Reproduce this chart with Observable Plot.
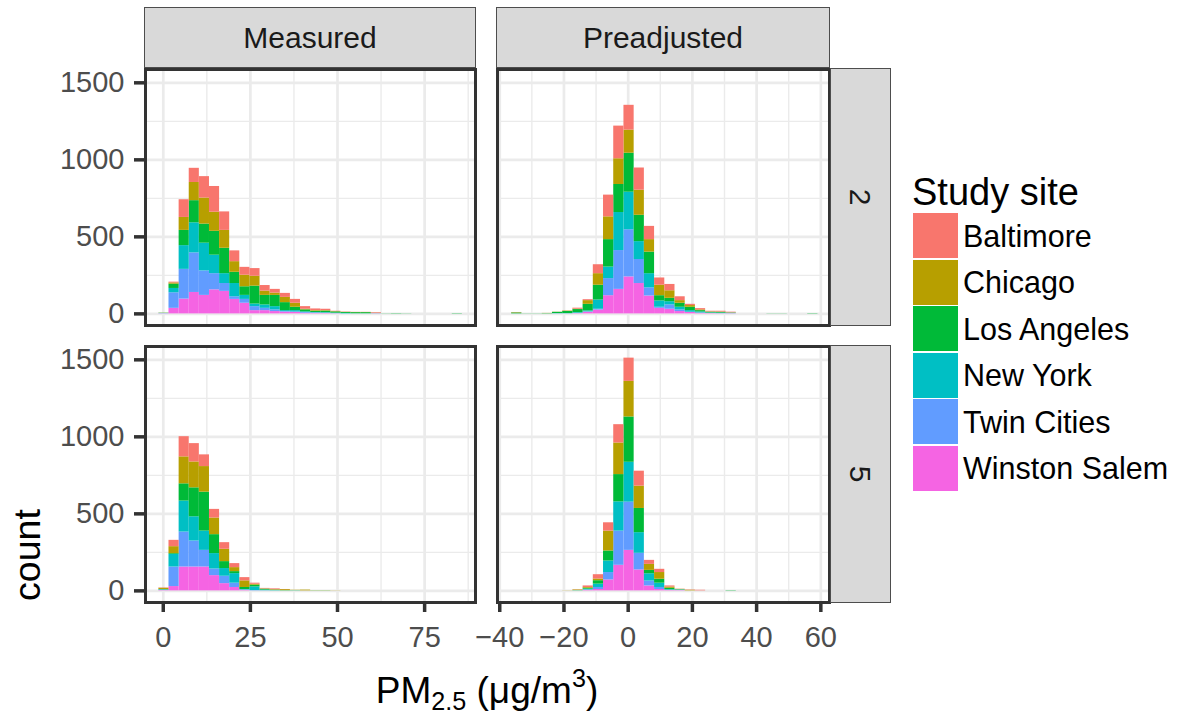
<!DOCTYPE html>
<html>
<head>
<meta charset="utf-8">
<script src="https://cdn.jsdelivr.net/npm/d3@7"></script>
<script src="https://cdn.jsdelivr.net/npm/@observablehq/plot@0.6"></script>
<style>
  body { margin: 0; background: #fff; }
  #wrap { position: relative; width: 1177px; height: 717px; overflow: hidden;
          font-family: "Liberation Sans", Arial, sans-serif; background: #fff; }
  #wrap svg.p { position: absolute; left: 0; top: 0; }
  .strip { position: absolute; background: #D9D9D9; border: 1px solid #4d4d4d; box-sizing: border-box;
           display: flex; align-items: center; justify-content: center; font-size: 30px; color: #1A1A1A; }
  .strip span.rot { display: inline-block; transform: rotate(90deg); }
  .key { position: absolute; width: 45px; height: 45px; }
  .klab { position: absolute; font-size: 30.5px; line-height: 1; color: #000; white-space: nowrap; }
  .ttl { position: absolute; white-space: nowrap; color: #000; line-height: 1; }
  sub { font-size: 0.68em; vertical-align: -0.28em; line-height: 0; }
  sup { font-size: 0.68em; vertical-align: 0.62em; line-height: 0; }
</style>
</head>
<body>
<div id="wrap"></div>
<script>
// ---------------- data ----------------
const sites = ["Baltimore", "Chicago", "Los Angeles", "New York", "Twin Cities", "Winston Salem"];
const siteColors = ["#F8766D", "#B79F00", "#00BA38", "#00BFC4", "#619CFF", "#F564E3"];

const facetCols = ["Measured", "Preadjusted"];
const facetRows = ["2", "5"];

// histogram bin edges (PM2.5, µg/m3)
const measuredEdges = [-1.26, 1.64, 4.55, 7.45, 10.35, 13.26, 16.16, 19.06, 21.96, 24.87, 27.77,
  30.67, 33.58, 36.48, 39.38, 42.29, 45.19, 48.09, 50.99, 53.90, 56.80, 59.70, 62.61, 65.51,
  68.41, 71.32, 74.22, 77.12, 80.02, 82.93, 85.83];
const preadjEdges = [-36.3, -33.12, -29.94, -26.76, -23.58, -20.4, -17.22, -14.04, -10.86, -7.68,
  -4.5, -1.32, 1.86, 5.04, 8.22, 11.4, 14.58, 17.76, 20.94, 24.12, 27.3, 30.48, 33.66, 36.84,
  40.02, 43.2, 46.38, 49.56, 52.74, 55.92, 59.1];

// counts per bin, one list per site (order of `sites`)
const measured2 = [
  [0,5,115,92,139,167,120,70,51,50,36,24,26,25,17,11,9,2,2,1,1,4,0,0,0,0,0,0,0,0],
  [1,8,84,118,169,124,116,69,75,64,28,15,34,26,4,4,3,2,1,1,1,1,0,0,0,0,0,0,0,0],
  [1,28,99,144,124,155,165,73,56,116,62,73,52,22,13,8,10,8,6,7,7,1,1,2,1,0,0,0,0,2],
  [1,28,154,195,180,120,64,86,26,17,22,21,6,8,4,3,3,3,3,1,1,0,0,0,0,0,0,0,0,0],
  [1,101,193,257,159,105,51,17,25,26,15,11,4,4,5,2,2,1,0,0,0,1,0,0,0,0,0,0,0,0],
  [1,36,96,139,120,156,146,94,69,21,21,15,11,9,4,4,3,1,0,0,0,1,0,0,0,0,0,0,0,0]
];
const measured5 = [
  [2,41,131,119,76,56,43,26,21,7,3,5,1,0,0,0,0,0,0,0,0,0,0,0,0,0,0,0,0,0],
  [8,45,175,168,166,108,80,26,43,6,2,3,6,2,5,1,1,1,0,0,0,0,0,0,0,0,0,0,0,0],
  [2,5,112,188,253,123,45,13,13,11,6,3,2,1,0,1,1,0,0,0,0,0,0,0,0,0,0,0,0,0],
  [2,82,201,157,125,100,50,62,3,24,4,2,0,1,0,0,0,0,0,0,0,0,0,0,0,0,0,0,0,0],
  [3,127,227,169,108,43,48,28,2,2,1,0,0,0,0,0,0,0,0,0,0,0,0,0,0,0,0,0,0,0],
  [2,28,155,155,155,99,47,22,4,0,0,0,0,0,0,0,0,0,0,0,0,0,0,0,0,0,0,0,0,0]
];
const preadj2 = [
  [1,0,0,0,0,1,6,6,58,141,212,161,144,86,47,41,25,8,8,4,5,4,0,0,0,0,0,0,0,0],
  [2,0,0,1,1,2,3,24,75,148,167,150,163,81,68,49,17,11,5,2,2,1,0,0,0,0,0,0,0,0],
  [6,1,1,2,8,14,20,43,96,178,182,253,171,140,34,22,26,22,8,5,5,2,0,0,0,1,1,0,0,2],
  [0,0,0,0,1,1,4,6,60,75,247,244,116,92,41,21,17,10,7,3,3,2,0,0,0,0,0,0,0,0],
  [0,0,0,0,1,1,2,2,5,111,252,306,156,53,7,28,11,2,2,1,1,1,0,0,0,0,0,0,0,0],
  [0,0,0,0,0,0,2,11,25,118,159,240,197,116,36,30,15,9,4,2,1,1,0,0,0,0,0,0,0,0]
];
const preadj5 = [
  [0,0,0,0,0,0,1,10,28,54,119,151,97,26,21,7,1,2,4,0,0,0,0,0,0,0,0,0,0,0],
  [0,0,0,0,0,1,4,5,11,129,205,231,145,39,43,8,2,4,0,0,0,0,0,0,0,0,0,0,0,0],
  [0,0,0,0,0,0,1,6,22,65,177,294,157,22,26,9,2,0,0,0,0,2,0,0,0,0,0,0,0,0],
  [0,0,0,0,0,0,1,5,22,75,190,259,134,47,28,4,2,0,0,0,0,0,0,0,0,0,0,0,0,0],
  [0,0,0,0,0,0,0,2,13,48,222,313,108,32,13,0,2,0,0,0,0,0,0,0,0,0,0,0,0,0],
  [0,0,0,0,0,0,0,4,9,71,166,263,136,32,9,4,2,0,0,0,0,0,0,0,0,0,0,0,0,0]
];

// axis ticks
const countTicks = [0, 500, 1000, 1500];
const countMinor = [250, 750, 1250];
const measuredTicks = [0, 25, 50, 75];
const measuredMinor = [12.5, 37.5, 62.5, 87.5];
const preadjTicks = [-40, -20, 0, 20, 40, 60];
const preadjMinor = [-30, -10, 10, 30, 50];

// ---------------- drawing ----------------
const W = 1177, H = 717;
const FONT = "'Liberation Sans', Arial, sans-serif";
const wrap = document.getElementById("wrap");
const fmt = d => (d < 0 ? "\u2212" : "") + Math.abs(d);

function panel({edges, counts, xDomain, xTicks, xMinor, box, showY, showX}) {
  const rows = [];
  for (let s = sites.length - 1; s >= 0; s--) {
    counts[s].forEach((c, i) => rows.push({site: sites[s], x1: edges[i], x2: edges[i + 1], count: c}));
  }
  const marks = [
    Plot.ruleX(xMinor, {stroke: "#EBEBEB", strokeWidth: 1.4}),
    Plot.ruleY(countMinor, {stroke: "#EBEBEB", strokeWidth: 1.4}),
    Plot.ruleX(xTicks, {stroke: "#EBEBEB", strokeWidth: 2.7}),
    Plot.ruleY(countTicks, {stroke: "#EBEBEB", strokeWidth: 2.7}),
    Plot.rectY(rows, {x1: "x1", x2: "x2", y: "count", fill: "site", inset: 0}),
    Plot.frame({stroke: "#333333", strokeWidth: 3})
  ];
  if (showY) marks.push(Plot.axisY(countTicks, {anchor: "left", tickSize: 11, tickPadding: 10,
    tickFormat: fmt, fontSize: 29, fill: "#4D4D4D", stroke: "#333333", strokeWidth: 3.5, label: null}));
  if (showX) marks.push(Plot.axisX(xTicks, {anchor: "bottom", tickSize: 10, tickPadding: 14,
    tickFormat: fmt, fontSize: 29, fill: "#4D4D4D", stroke: "#333333", strokeWidth: 3.5, label: null}));
  const svg = Plot.plot({
    width: W, height: H,
    marginLeft: box[0], marginRight: W - box[2], marginTop: box[1], marginBottom: H - box[3],
    style: {background: "transparent", fontFamily: FONT, overflow: "visible"},
    x: {domain: xDomain, axis: showX ? undefined : null},
    y: {domain: [-75.5, 1586.5], axis: showY ? undefined : null},
    color: {domain: sites, range: siteColors},
    marks
  });
  svg.classList.add("p");
  wrap.appendChild(svg);
}

const mDom = [-5.1, 89.6], pDom = [-40.7, 62.7];
panel({edges: measuredEdges, counts: measured2, xDomain: mDom, xTicks: measuredTicks, xMinor: measuredMinor,
       box: [145, 69, 475, 325], showY: true, showX: false});
panel({edges: preadjEdges, counts: preadj2, xDomain: pDom, xTicks: preadjTicks, xMinor: preadjMinor,
       box: [497, 69, 829, 325], showY: false, showX: false});
panel({edges: measuredEdges, counts: measured5, xDomain: mDom, xTicks: measuredTicks, xMinor: measuredMinor,
       box: [145, 346, 475, 602], showY: true, showX: true});
panel({edges: preadjEdges, counts: preadj5, xDomain: pDom, xTicks: preadjTicks, xMinor: preadjMinor,
       box: [497, 346, 829, 602], showY: false, showX: true});

function div(cls, style, html) {
  const d = document.createElement("div");
  d.className = cls;
  Object.assign(d.style, style);
  d.innerHTML = html;
  wrap.appendChild(d);
  return d;
}

// strips
div("strip", {left: "144px", top: "7px", width: "332px", height: "61px"}, facetCols[0]);
div("strip", {left: "496px", top: "7px", width: "334px", height: "61px"}, facetCols[1]);
div("strip", {left: "830px", top: "68px", width: "61px", height: "258px"}, `<span class="rot">${facetRows[0]}</span>`);
div("strip", {left: "830px", top: "345px", width: "61px", height: "258px"}, `<span class="rot">${facetRows[1]}</span>`);

// axis titles
div("ttl", {left: "0px", width: "974px", textAlign: "center", top: "672px", fontSize: "37px"},
    "PM<sub>2.5</sub> (μg/m<sup>3</sup>)");
div("ttl", {left: "28px", top: "555px", fontSize: "37.5px", transform: "translate(-50%,-50%) rotate(-90deg)"}, "count");

// legend
div("ttl", {left: "912px", top: "173px", fontSize: "38px"}, "Study site");
sites.forEach((s, i) => {
  const top = 213 + i * 46.5;
  div("key", {left: "913px", top: top + "px", background: siteColors[i]}, "");
  div("klab", {left: "963px", top: (top + 22.5) + "px", transform: "translateY(-50%)"}, s);
});
</script>
</body>
</html>
